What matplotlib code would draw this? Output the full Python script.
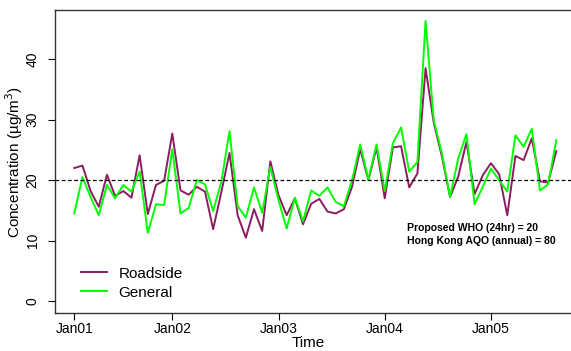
import numpy as np
import matplotlib
matplotlib.use("Agg")
import matplotlib.pyplot as plt

plt.rcParams['font.family'] = ['Liberation Sans', 'DejaVu Sans']

# monthly means, Jan 2001 - Dec 2005
roadside = [22.0, 22.4, 18.2, 15.6, 20.9, 17.4, 18.2, 17.1, 24.1, 14.4, 19.2, 19.9,
            27.7, 18.3, 17.6, 18.9, 18.1, 11.9, 18.0, 24.5, 14.2, 10.5, 15.2, 11.6,
            23.1, 17.5, 14.2, 17.0, 12.7, 16.1, 16.9, 14.8, 14.5, 15.2, 18.9, 25.1,
            20.0, 25.4, 17.0, 25.4, 25.6, 18.8, 21.1, 38.5, 29.5, 23.9, 17.2, 20.6,
            26.3, 17.7, 20.8, 22.8, 21.0, 14.2, 24.0, 23.3, 26.9, 19.8, 19.6, 24.8]
general = [14.5, 20.5, 17.2, 14.2, 19.2, 17.0, 19.2, 18.1, 21.4, 11.3, 16.0, 15.9,
           25.1, 14.5, 15.4, 20.0, 19.3, 14.9, 19.7, 28.1, 15.7, 13.8, 18.8, 14.6,
           22.2, 16.7, 12.0, 17.1, 13.2, 18.3, 17.4, 18.8, 16.4, 15.7, 20.0, 25.9,
           20.1, 25.9, 18.2, 26.1, 28.7, 21.4, 23.0, 46.3, 29.9, 24.4, 17.2, 23.6,
           27.6, 16.0, 18.9, 21.9, 20.0, 18.1, 27.4, 25.5, 28.5, 18.3, 19.3, 26.6]

tick_pos = [0, 12, 25, 38, 51]
tick_labels = ["Jan01", "Jan02", "Jan03", "Jan04", "Jan05"]
who_limit = 20

x = np.arange(len(roadside))

fig = plt.figure(figsize=(5.71, 3.51), dpi=100)
ax = fig.add_axes([0.0963, 0.1074, 0.9117, 0.864])

ax.plot(x, roadside, color="#8B1C62", lw=1.4, label="Roadside")
ax.plot(x, general, color="#00FF00", lw=1.4, label="General")
ax.axhline(who_limit, color="black", lw=0.9, ls=(0, (3, 2)))

pad = 0.04 * (len(x) - 1)
ax.set_xlim(-pad, len(x) - 1 + pad)
ax.set_ylim(-2.0, 48.1)

ax.set_xticks(tick_pos)
ax.set_xticklabels(tick_labels, fontsize=10)
ax.set_yticks([0, 10, 20, 30, 40])
ax.set_yticklabels(["0", "10", "20", "30", "40"], fontsize=10, rotation=90, va="center")
ax.tick_params(direction="out", length=5, width=0.8, color="black")
ax.tick_params(axis="y", pad=6)
ax.tick_params(axis="x", pad=1.5)

ax.set_ylabel("Concentration (\u00b5g/m$^3$)", fontsize=11)
ax.yaxis.set_label_coords(-0.058, 0.5)
ax.set_xlabel("Time", fontsize=11)
ax.xaxis.set_label_coords(0.486, -0.076)

for s in ax.spines.values():
    s.set_linewidth(1.0)
    s.set_color("#333333")

ax.text(0.677, 0.26, "Proposed WHO (24hr) = 20\nHong Kong AQO (annual) = 80",
        transform=ax.transAxes, fontsize=7.5, fontweight="bold",
        ha="left", va="center", linespacing=1.35)

ax.legend(loc="lower left", bbox_to_anchor=(0.024, 0.0), frameon=False,
          fontsize=11, handlelength=1.7, handletextpad=0.75, labelspacing=0.33)

fig.savefig("out.png", dpi=100)
